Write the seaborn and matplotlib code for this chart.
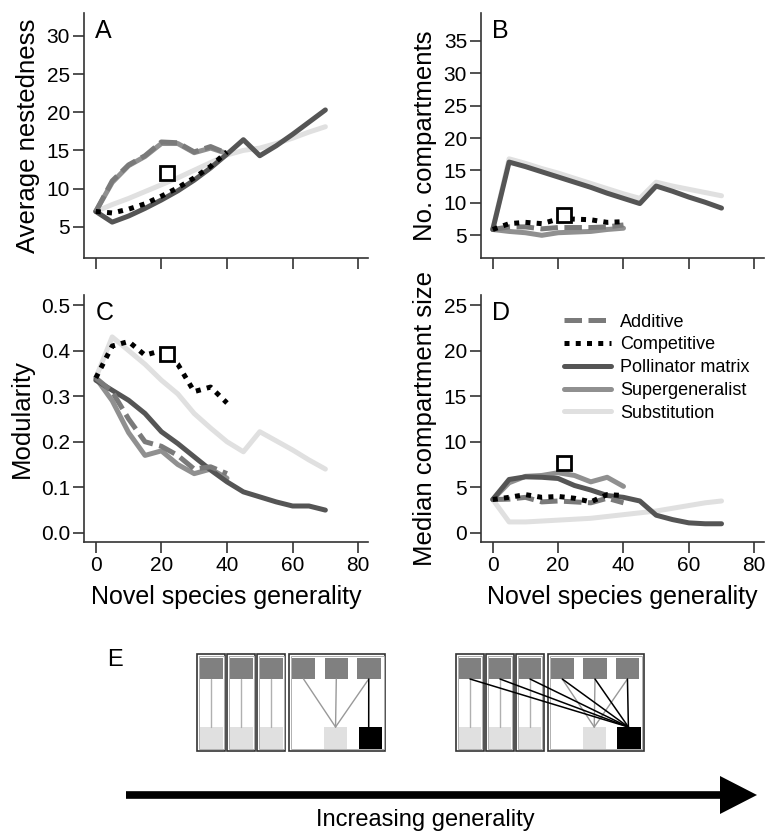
import numpy as np
import pandas as pd
import matplotlib
matplotlib.use("Agg")
import matplotlib.pyplot as plt
import seaborn as sns
from matplotlib.patches import Rectangle, Polygon

sns.set_theme(style="ticks")
plt.rcParams['font.family'] = ['Liberation Sans', 'DejaVu Sans']
plt.rcParams['text.color'] = 'black'
plt.rcParams['axes.labelcolor'] = 'black'
plt.rcParams['xtick.color'] = 'black'
plt.rcParams['ytick.color'] = 'black'

# ---------------- data ----------------
x_long = [0, 5, 10, 15, 20, 25, 30, 35, 40, 45, 50, 55, 60, 65, 70]
x_short = [0, 5, 10, 15, 20, 25, 30, 35, 40]

series_names = ["Additive", "Competitive", "Pollinator matrix", "Supergeneralist", "Substitution"]

# Panel A: average nestedness
nest_additive = [7.0, 11.0, 13.1, 14.3, 16.1, 16.0, 14.8, 15.5, 14.6]
nest_competitive = [7.0, 6.8, 7.3, 8.0, 9.0, 10.1, 11.4, 12.9, 14.8]
nest_pollinator = [7.0, 5.6, 6.4, 7.4, 8.5, 9.7, 11.1, 12.7, 14.5, 16.4, 14.3, 15.6, 17.1, 18.7, 20.3]
nest_supergen = [7.0, 10.8, 13.0, 14.2, 15.9, 15.9, 14.7, 15.3, 14.6]
nest_substitution = [7.0, 7.9, 8.7, 9.6, 10.5, 11.4, 12.4, 13.4, 14.4, 15.0, 15.3, 15.9, 16.6, 17.4, 18.1]
nest_obs = (21.7, 12.0)

# Panel B: number of compartments
comp_additive = [5.9, 6.3, 6.3, 6.0, 6.2, 6.2, 6.2, 6.3, 6.6]
comp_competitive = [5.9, 6.8, 7.0, 6.8, 7.5, 7.5, 7.4, 7.0, 7.1]
comp_pollinator = [5.9, 16.3, 15.6, 14.8, 14.0, 13.2, 12.4, 11.5, 10.7, 9.9, 12.6, 11.8, 10.9, 10.1, 9.2]
comp_supergen = [5.9, 5.6, 5.4, 5.0, 5.4, 5.5, 5.6, 5.9, 6.1]
comp_substitution = [5.9, 16.8, 16.1, 15.3, 14.6, 13.8, 13.0, 12.2, 11.4, 10.7, 13.2, 12.6, 12.1, 11.6, 11.1]
comp_obs = (21.9, 8.1)

# Panel C: modularity
mod_additive = [0.34, 0.31, 0.25, 0.20, 0.19, 0.17, 0.14, 0.145, 0.13]
mod_competitive = [0.34, 0.41, 0.42, 0.39, 0.40, 0.37, 0.31, 0.32, 0.285]
mod_pollinator = [0.335, 0.313, 0.291, 0.262, 0.222, 0.196, 0.167, 0.138, 0.112, 0.090, 0.079, 0.068, 0.059, 0.059, 0.050]
mod_supergen = [0.34, 0.29, 0.22, 0.17, 0.18, 0.15, 0.13, 0.14, 0.12]
mod_substitution = [0.34, 0.43, 0.40, 0.37, 0.335, 0.305, 0.262, 0.23, 0.20, 0.178, 0.222, 0.202, 0.182, 0.16, 0.14]
mod_obs = (21.7, 0.392)

# Panel D: median compartment size
size_additive = [3.66, 3.7, 3.9, 3.4, 3.5, 3.4, 3.3, 3.8, 3.3]
size_competitive = [3.66, 3.9, 4.2, 3.9, 4.0, 3.8, 3.4, 4.2, 4.1]
size_pollinator = [3.66, 5.86, 6.15, 6.1, 5.97, 5.2, 4.7, 4.1, 3.9, 3.5, 1.94, 1.46, 1.1, 1.0, 1.0]
size_supergen = [3.66, 5.5, 6.2, 6.3, 6.6, 6.3, 5.6, 6.1, 5.1]
size_substitution = [3.66, 1.2, 1.2, 1.3, 1.4, 1.5, 1.6, 1.8, 2.0, 2.2, 2.4, 2.7, 3.0, 3.3, 3.5]
size_obs = (21.8, 7.7)

x_ticks = [0, 20, 40, 60, 80]

# ---------------- styles ----------------
LW = 3.6
styles = {
    "Substitution": dict(color="#e0e0e0", ls="-"),
    "Supergeneralist": dict(color="#909090", ls="-"),
    "Pollinator matrix": dict(color="#555555", ls="-"),
    "Additive": dict(color="#7a7a7a", ls=(0, (3.5, 1.3))),
    "Competitive": dict(color="#000000", ls=(0, (1, 1.25))),
}
draw_order = ["Substitution", "Supergeneralist", "Pollinator matrix", "Additive", "Competitive"]

W, H = 767, 832
fig = plt.figure(figsize=(W / 100, H / 100), dpi=100)

# background axes for panel E (pixel coordinates)
axe = fig.add_axes([0, 0, 1, 1])
axe.set_xlim(0, W)
axe.set_ylim(H, 0)
axe.axis("off")


def px_axes(l, t, r, b):
    return fig.add_axes([l / W, 1 - b / H, (r - l) / W, (b - t) / H])


axA = px_axes(84, 13, 368, 258)
axB = px_axes(481, 13, 764, 258)
axC = px_axes(84, 295, 368, 542)
axD = px_axes(481, 295, 764, 542)

panels = [
    (axA, "A", "Average nestedness", [nest_additive, nest_competitive, nest_pollinator, nest_supergen, nest_substitution], nest_obs, (0.9, 33), [5, 10, 15, 20, 25, 30], None),
    (axB, "B", "No. compartments", [comp_additive, comp_competitive, comp_pollinator, comp_supergen, comp_substitution], comp_obs, (1.5, 39.3), [5, 10, 15, 20, 25, 30, 35], None),
    (axC, "C", "Modularity", [mod_additive, mod_competitive, mod_pollinator, mod_supergen, mod_substitution], mod_obs, (-0.02, 0.522), [0.0, 0.1, 0.2, 0.3, 0.4, 0.5], "%.1f"),
    (axD, "D", "Median compartment size", [size_additive, size_competitive, size_pollinator, size_supergen, size_substitution], size_obs, (-1.0, 26.1), [0, 5, 10, 15, 20, 25], None),
]

for ax, letter, ylabel, vals, obs, ylim, yticks, fmt in panels:
    data = dict(zip(series_names, vals))
    for name in draw_order:
        y = data[name]
        xs = x_long if len(y) == len(x_long) else x_short
        st = styles[name]
        sns.lineplot(x=xs, y=y, ax=ax, color=st["color"], linewidth=LW,
                     linestyle=st["ls"], label=name, legend=False,
                     solid_capstyle="round", dash_capstyle="butt")
    ax.plot([obs[0]], [obs[1]], marker="s", ms=10, mfc="white", mec="black", mew=2, ls="none", zorder=10)
    ax.set_xlim(-3.6, 83)
    ax.set_ylim(*ylim)
    ax.set_xticks(x_ticks)
    ax.set_yticks(yticks)
    if fmt:
        ax.set_yticklabels([fmt % v for v in yticks])
    ax.set_ylabel(ylabel, fontsize=18.5, labelpad=5)
    ax.text(0.04, 0.975, letter, transform=ax.transAxes, fontsize=18, va="top", ha="left")
    sns.despine(ax=ax)
    for s in ["left", "bottom"]:
        ax.spines[s].set_color("#333333")
        ax.spines[s].set_linewidth(1.2)
    ax.tick_params(axis="both", length=8, width=1.2, color="#333333", labelsize=15, pad=2)
    ax.set_facecolor("none")

for ax in (axA, axB):
    ax.set_xticklabels([])
    ax.set_xlabel("")
for ax in (axC, axD):
    ax.set_xlabel("Novel species generality", fontsize=18, labelpad=7)

# legend in D
hmap = {h.get_label(): h for h in axD.get_lines()}
leg = axD.legend([hmap[n] for n in series_names], series_names, loc="upper left",
                 bbox_to_anchor=(0.295, 0.925), frameon=False, fontsize=13,
                 handlelength=2.6, handletextpad=0.5, labelspacing=0.32,
                 borderpad=0, borderaxespad=0)

# ---------------- panel E schematic ----------------
axe.text(107, 660, "E", fontsize=17, va="center", ha="left")

group_x0 = [197.3, 456.0]
small_boxes = [(0, 28), (30, 58), (60, 88)]
big_box = (92, 188)
box_top, box_bot = 654, 750.5
top_sq_y = (658, 679)
bot_sq_y = (727, 748.5)
big_top_sq = [(94.5, 118), (127.3, 150.7), (159.7, 183.2)]
big_light_sq = (126.5, 150)
big_black_sq = (161.4, 185)
DARK = "#808080"
LIGHT = "#e0e0e0"


def rect(x0, x1, y0, y1, **kw):
    axe.add_patch(Rectangle((x0, y0), x1 - x0, y1 - y0, **kw))


for gi, gx in enumerate(group_x0):
    for (a, b) in small_boxes + [big_box]:
        rect(gx + a, gx + b, box_top, box_bot, fill=False, ec="#333333", lw=1.2)
        rect(gx + a + 1.6, gx + b - 1.6, box_top + 1.6, box_bot - 1.6, fill=False, ec="#b0b0b0", lw=0.7)
    tops = []
    for (a, b) in small_boxes:
        sx0, sx1 = gx + a + 2.7, gx + b - 2.7
        rect(sx0, sx1, top_sq_y[0], top_sq_y[1], fc=DARK, ec="none")
        rect(sx0, sx1, bot_sq_y[0], bot_sq_y[1], fc=LIGHT, ec="none")
        cx = (sx0 + sx1) / 2
        axe.plot([cx, cx], [top_sq_y[1], bot_sq_y[0]], color="#b0b0b0", lw=1.0)
        tops.append(cx)
    lx = gx + (big_light_sq[0] + big_light_sq[1]) / 2
    for (a, b) in big_top_sq:
        rect(gx + a, gx + b, top_sq_y[0], top_sq_y[1], fc=DARK, ec="none")
        cx = gx + (a + b) / 2
        axe.plot([cx, lx], [top_sq_y[1], bot_sq_y[0]], color="#999999", lw=1.0)
        tops.append(cx)
    rect(gx + big_light_sq[0], gx + big_light_sq[1], bot_sq_y[0], bot_sq_y[1], fc=LIGHT, ec="none")
    rect(gx + big_black_sq[0], gx + big_black_sq[1], bot_sq_y[0], bot_sq_y[1], fc="black", ec="none")
    if gi == 0:
        axe.plot([tops[-1], gx + big_black_sq[0] + 10], [top_sq_y[1], bot_sq_y[0]], color="black", lw=1.1)
    else:
        for cx in tops:
            axe.plot([cx, gx + big_black_sq[0] + 11], [top_sq_y[1], bot_sq_y[0]], color="black", lw=1.1)

# arrow
axe.plot([125.6, 722], [795, 795], color="black", lw=5.5, solid_capstyle="butt")
axe.add_patch(Polygon([(720, 776), (720, 814), (757, 795)], closed=True, fc="black", ec="none"))
axe.text(425, 820, "Increasing generality", fontsize=17, ha="center", va="center")

fig.savefig("out.png", dpi=100)
